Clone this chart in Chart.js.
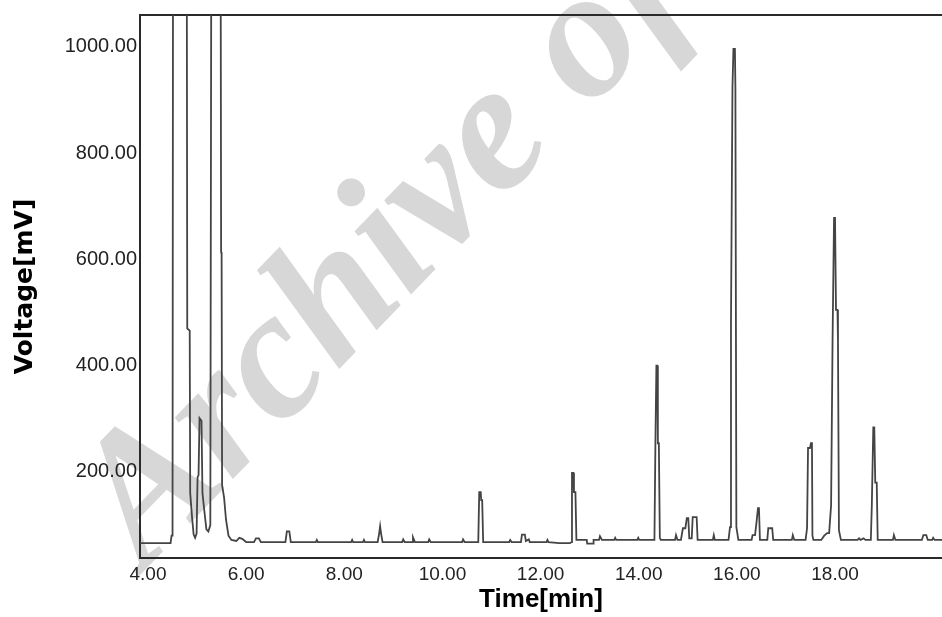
<!DOCTYPE html>
<html>
<head>
<meta charset="utf-8">
<script src="https://cdn.jsdelivr.net/npm/chart.js@4.4.1/dist/chart.umd.min.js"></script>
<style>
  html, body { margin: 0; padding: 0; background: #fff; overflow: hidden; }
  canvas { display: block; }
</style>
</head>
<body>
<canvas id="chrom" width="942" height="617"></canvas>
<script>
// Chromatogram trace: time in minutes, signal in mV
const timeMin = [
  3.84, 4.46, 4.48, 4.50, 4.51, 4.79, 4.80, 4.85, 4.86, 4.90, 4.93, 4.96, 4.99, 5.01, 5.03, 5.05,
  5.09, 5.11, 5.15, 5.19, 5.23, 5.27, 5.29, 5.48, 5.49, 5.50, 5.51, 5.55, 5.59, 5.64, 5.70, 5.80,
  5.86, 5.92, 6.00, 6.16, 6.20, 6.26, 6.30, 6.80, 6.83, 6.88, 6.91, 7.42, 7.44, 7.46, 8.14, 8.16,
  8.18, 8.38, 8.40, 8.42, 8.68, 8.71, 8.73, 8.75, 8.78, 9.18, 9.20, 9.23, 9.38, 9.40, 9.44, 9.71,
  9.73, 9.76, 10.40, 10.42, 10.45, 10.73, 10.75, 10.78, 10.79, 10.81, 10.83, 11.36, 11.38, 11.41,
  11.60, 11.62, 11.68, 11.70, 11.76, 11.78, 12.12, 12.14, 12.16, 12.38, 12.42, 12.60, 12.63, 12.64,
  12.67, 12.68, 12.71, 12.73, 12.94, 12.95, 13.07, 13.08, 13.19, 13.21, 13.25, 13.50, 13.52, 13.54,
  13.97, 13.99, 14.01, 14.32, 14.34, 14.36, 14.38, 14.39, 14.41, 14.43, 14.45, 14.74, 14.76, 14.79,
  14.86, 14.90, 14.95, 14.98, 15.01, 15.03, 15.08, 15.10, 15.18, 15.20, 15.51, 15.53, 15.55, 15.83,
  15.86, 15.88, 15.91, 15.93, 15.96, 15.97, 15.99, 16.03, 16.30, 16.32, 16.37, 16.40, 16.43, 16.45,
  16.47, 16.62, 16.64, 16.72, 16.74, 17.12, 17.14, 17.17, 17.40, 17.43, 17.45, 17.49, 17.51, 17.53,
  17.54, 17.56, 17.72, 17.78, 17.84, 17.88, 17.92, 17.95, 17.98, 18.00, 18.02, 18.05, 18.06, 18.08,
  18.12, 18.15, 18.46, 18.49, 18.52, 18.58, 18.62, 18.73, 18.75, 18.78, 18.80, 18.82, 18.85, 18.87,
  19.18, 19.20, 19.23, 19.77, 19.80, 19.86, 19.89, 19.98, 20.00, 20.03, 20.20
];
const voltageMv = [
  66, 66, 80, 80, 1200, 1200, 470, 466, 160, 112, 82, 76, 84, 190, 194, 301,
  296, 160, 125, 92, 88, 100, 1200, 1200, 614, 610, 175, 152, 110, 80, 72, 70,
  76, 74, 68, 68, 75, 75, 68, 68, 88, 88, 68, 68, 72, 68, 68, 72,
  68, 68, 72, 68, 68, 84, 98, 84, 68, 68, 73, 68, 68, 77, 68, 68,
  73, 68, 68, 73, 68, 68, 162, 162, 147, 147, 68, 68, 72, 68,
  68, 82, 82, 70, 73, 68, 68, 72, 68, 66, 66, 66, 68, 198,
  198, 162, 162, 72, 72, 65, 65, 72, 72, 79, 72, 72, 76, 72,
  72, 76, 72, 72, 254, 400, 400, 254, 254, 76, 72, 72, 81, 72,
  72, 94, 94, 113, 113, 75, 75, 115, 115, 72, 72, 81, 72, 72,
  96, 480, 923, 996, 996, 923, 96, 72, 72, 81, 81, 105, 132, 132,
  72, 72, 94, 94, 72, 72, 81, 72, 72, 94, 245, 245, 254, 254,
  80, 72, 72, 80, 85, 85, 137, 448, 678, 678, 505, 505, 448, 90,
  72, 72, 72, 75, 72, 75, 72, 72, 137, 284, 284, 180, 180, 72,
  72, 81, 72, 72, 81, 81, 72, 72, 76, 72, 72
];

// Axis settings
const timeRange = [3.837, 20.18];
const voltageRange = [38, 1060];
const timeTicksShown = [4, 6, 8, 10, 12, 14, 16, 18];
const voltageTicksShown = [200, 400, 600, 800, 1000];
const xTitle = 'Time[min]';
const yTitle = 'Voltage[mV]';
const watermarkText = 'Archive of SID';

const tracePoints = timeMin.map((t, i) => ({ x: t, y: voltageMv[i] }));

// Light grey diagonal watermark drawn under everything
const watermark = {
    id: 'watermark',
    beforeDraw(chart) {
        const ctx = chart.ctx;
        ctx.save();
        ctx.translate(145, 570);
        ctx.rotate(-46 * Math.PI / 180);
        ctx.font = 'italic bold 184px "Liberation Serif", serif';
        ctx.fillStyle = '#d7d7d7';
        ctx.textBaseline = 'alphabetic';
        ctx.fillText(watermarkText, 0, 0);
        ctx.restore();
    }
};

const frameColor = '#2a2a2a';
const tickFont = '"Liberation Sans", Arial, sans-serif';

new Chart(document.getElementById('chrom').getContext('2d'), {
    type: 'line',
    data: {
        datasets: [{
            data: tracePoints,
            borderColor: '#444',
            borderWidth: 1.8,
            pointRadius: 0,
            tension: 0,
            fill: false
        }]
    },
    options: {
        responsive: false,
        animation: false,
        devicePixelRatio: 1,
        layout: { padding: { top: 15, left: 0, right: 0, bottom: 0 } },
        plugins: {
            legend: { display: false },
            tooltip: { enabled: false }
        },
        scales: {
            x: {
                type: 'linear',
                position: 'bottom',
                min: timeRange[0],
                max: timeRange[1],
                grid: { display: false, drawTicks: false },
                border: { display: true, color: frameColor, width: 2 },
                ticks: {
                    autoSkip: false,
                    maxRotation: 0,
                    padding: 5,
                    color: '#222',
                    font: { family: tickFont, size: 19 },
                    callback: (v) => Number(v).toFixed(2)
                },
                // fixed tick positions: 4.00 ... 18.00
                afterBuildTicks: (scale) => {
                    scale.ticks = timeTicksShown.map(v => ({ value: v }));
                },
                afterFit: (scale) => { scale.height = 59; },
                title: {
                    display: true,
                    text: xTitle,
                    color: '#000',
                    padding: { top: 0, bottom: 2 },
                    font: { family: tickFont, size: 26, weight: 'bold' }
                }
            },
            xTop: {
                type: 'linear',
                position: 'top',
                min: timeRange[0],
                max: timeRange[1],
                grid: { display: false, drawTicks: false },
                border: { display: true, color: frameColor, width: 2 },
                ticks: { display: false },
                afterFit: (scale) => { scale.height = 0; }
            },
            y: {
                type: 'linear',
                position: 'left',
                min: voltageRange[0],
                max: voltageRange[1],
                grid: { display: false, drawTicks: false },
                border: { display: true, color: frameColor, width: 2 },
                ticks: {
                    autoSkip: false,
                    padding: 3,
                    color: '#222',
                    font: { family: tickFont, size: 20 },
                    callback: (v) => Number(v).toFixed(2)
                },
                afterBuildTicks: (scale) => {
                    scale.ticks = voltageTicksShown.map(v => ({ value: v }));
                },
                afterFit: (scale) => { scale.width = 140; },
                title: {
                    display: true,
                    text: yTitle,
                    color: '#000',
                    padding: { top: 10, bottom: 0 },
                    font: { family: '"DejaVu Sans", Verdana, sans-serif', size: 25, weight: 'bold' }
                }
            }
        }
    },
    plugins: [watermark]
});
</script>
</body>
</html>
